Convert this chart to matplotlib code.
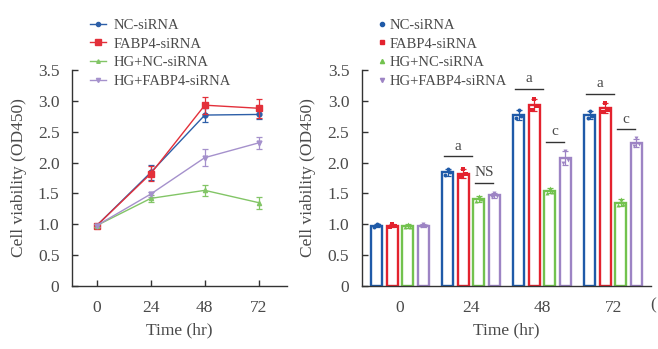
import matplotlib
matplotlib.use("Agg")
import matplotlib.pyplot as plt
from matplotlib.lines import Line2D
import numpy as np

plt.rcParams['font.family'] = ['Liberation Serif', 'DejaVu Serif']

# ---------------- data ----------------
times = [0, 24, 48, 72]
time_labels = ['0', '24', '48', '72']
groups = ['NC-siRNA', 'FABP4-siRNA', 'HG+NC-siRNA', 'HG+FABP4-siRNA']

# left panel (line chart) means and SD
nc_mean = [0.98, 1.84, 2.77, 2.78]
fabp4_mean = [0.98, 1.82, 2.93, 2.88]
hgnc_mean = [0.98, 1.42, 1.55, 1.35]
hgfabp4_mean = [0.98, 1.49, 2.08, 2.32]
nc_sd = [0.03, 0.12, 0.11, 0.08]
fabp4_sd = [0.03, 0.12, 0.14, 0.15]
hgnc_sd = [0.03, 0.06, 0.09, 0.10]
hgfabp4_sd = [0.03, 0.04, 0.14, 0.10]

# right panel (bar chart) means, SD and individual points
bar_nc = [0.98, 1.84, 2.77, 2.77]
bar_fabp4 = [0.98, 1.82, 2.93, 2.88]
bar_hgnc = [0.97, 1.41, 1.54, 1.35]
bar_hgfabp4 = [0.98, 1.47, 2.07, 2.32]
bar_nc_sd = [0.03, 0.05, 0.08, 0.06]
bar_fabp4_sd = [0.03, 0.07, 0.10, 0.08]
bar_hgnc_sd = [0.03, 0.05, 0.04, 0.06]
bar_hgfabp4_sd = [0.02, 0.04, 0.11, 0.07]
pts_nc = [[0.95, 1.01, 0.99], [1.80, 1.89, 1.84], [2.72, 2.85, 2.75], [2.73, 2.83, 2.76]]
pts_fabp4 = [[0.96, 1.01, 0.97], [1.77, 1.89, 1.81], [2.86, 3.03, 2.91], [2.82, 2.96, 2.86]]
pts_hgnc = [[0.95, 1.00, 0.96], [1.37, 1.46, 1.41], [1.51, 1.58, 1.53], [1.31, 1.41, 1.33]]
pts_hgfabp4 = [[0.97, 1.00, 0.98], [1.45, 1.51, 1.46], [2.00, 2.18, 2.04], [2.27, 2.40, 2.30]]

# significance brackets: (group index, label, height)
sig_a = [(1, 'a', 2.10), (2, 'a', 3.19), (3, 'a', 3.11)]
sig_b = [(1, 'NS', 1.67), (2, 'c', 2.34), (3, 'c', 2.54)]

yticks = [0, 0.5, 1.0, 1.5, 2.0, 2.5, 3.0, 3.5]
ytick_labels = ['0', '0.5', '1.0', '1.5', '2.0', '2.5', '3.0', '3.5']

# ---------------- style ----------------
colors = ['#1f5aa8', '#e3222e', '#72c24e', '#9d84c4']
line_colors = ['#2d5fa8', '#e3303a', '#82c566', '#a591cc']
markers = ['o', 's', '^', 'v']
msizes = [3.5, 5, 3, 3.5]
txt = '#4a4a4a'
spine = '#333333'
FS = 12.5

fig = plt.figure(figsize=(6.58, 3.49), dpi=100)
ax1 = fig.add_axes([0.1094, 0.1805, 0.3267, 0.6189])
ax2 = fig.add_axes([0.5497, 0.1805, 0.4392, 0.6189])

means = [nc_mean, fabp4_mean, hgnc_mean, hgfabp4_mean]
sds = [nc_sd, fabp4_sd, hgnc_sd, hgfabp4_sd]
handles1 = []
for i in range(4):
    ax1.errorbar(times, means[i], yerr=sds[i], color=line_colors[i], marker=markers[i],
                 markersize=msizes[i], linewidth=1.0, elinewidth=0.9, capsize=2.5,
                 capthick=0.9, zorder=3 + i * 0.1)
    handles1.append(Line2D([], [], color=line_colors[i], marker=markers[i],
                           markersize=msizes[i] * 0.85, linewidth=1.0, label=groups[i]))

ax1.set_xlim(-11, 84.5)
ax1.set_xticks(times)
ax1.set_xticklabels(time_labels)

bmeans = [bar_nc, bar_fabp4, bar_hgnc, bar_hgfabp4]
bsds = [bar_nc_sd, bar_fabp4_sd, bar_hgnc_sd, bar_hgfabp4_sd]
bpts = [pts_nc, pts_fabp4, pts_hgnc, pts_hgfabp4]
x = np.arange(len(times))
offs = [-0.325, -0.11, 0.11, 0.325]
w = 0.155
handles2 = []
for i in range(4):
    xs = x + offs[i]
    ax2.bar(xs, bmeans[i], width=w, facecolor='white', edgecolor=colors[i], linewidth=1.7, zorder=2)
    ax2.errorbar(xs, bmeans[i], yerr=bsds[i], fmt='none', ecolor=colors[i], elinewidth=0.9,
                 capsize=2.5, capthick=0.9, zorder=3)
    for j in range(len(times)):
        ax2.scatter(xs[j] + np.array([-0.035, 0.0, 0.035]), bpts[i][j], s=8, marker=markers[i],
                    color=colors[i], zorder=4, linewidths=0)
    handles2.append(Line2D([], [], linestyle='none', marker=markers[i], markersize=3,
                           color=colors[i], label=groups[i]))

for g, lab, h in sig_a:
    ax2.plot([g - 0.38, g + 0.02], [h, h], color='#333333', linewidth=1.0)
    ax2.text(g - 0.18, h + 0.06, lab, ha='center', va='bottom', fontsize=11, color=txt)
for g, lab, h in sig_b:
    ax2.plot([g + 0.05, g + 0.31], [h, h], color='#333333', linewidth=1.0)
    ax2.text(g + 0.18, h + 0.06, lab, ha='center', va='bottom', fontsize=11, color=txt)

ax2.set_xlim(-0.54, 3.53)
ax2.set_xticks(x)
ax2.set_xticklabels(time_labels)

for ax in (ax1, ax2):
    ax.set_ylim(0, 3.5)
    ax.set_yticks(yticks)
    ax.set_yticklabels(ytick_labels)
    for s in ('top', 'right'):
        ax.spines[s].set_visible(False)
    for s in ('left', 'bottom'):
        ax.spines[s].set_color(spine)
        ax.spines[s].set_linewidth(1.0)
    ax.tick_params(axis='both', direction='in', length=4, width=1.0, colors=spine,
                   labelcolor=txt, labelsize=FS)
    ax.tick_params(axis='y', pad=9)
    ax.tick_params(axis='x', pad=10)
    ax.set_xlabel('Time (hr)', fontsize=FS, color=txt, labelpad=5)
    ax.set_ylabel('Cell viability (OD450)', fontsize=FS, color=txt, labelpad=8)

ax2.tick_params(axis='x', length=0)

leg1 = ax1.legend(handles=handles1, loc='upper left', bbox_to_anchor=(0.055, 1.265), frameon=False,
                  fontsize=10.5, handlelength=1.15, handletextpad=0.5, labelspacing=0.38,
                  borderaxespad=0)
for t in leg1.get_texts():
    t.set_color(txt)
leg2 = ax2.legend(handles=handles2, loc='upper left', bbox_to_anchor=(0.035, 1.265), frameon=False,
                  fontsize=10.5, handlelength=0.6, handletextpad=0.25, labelspacing=0.38,
                  borderaxespad=0)
for t in leg2.get_texts():
    t.set_color(txt)

fig.text(0.988, 0.125, '(', fontsize=FS, color=txt, ha='left', va='center')

fig.savefig('out.png', dpi=100)
